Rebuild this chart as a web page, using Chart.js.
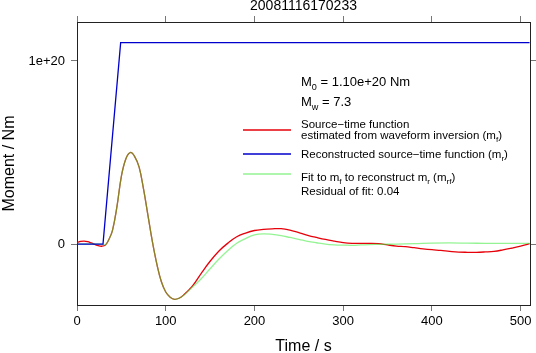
<!DOCTYPE html>
<html>
<head>
<meta charset="utf-8">
<script src="https://cdn.jsdelivr.net/npm/chart.js@4.4.1/dist/chart.umd.min.js"></script>
<style>
  body { margin: 0; background: #fff; }
  #wrap { width: 536px; height: 353px; }
</style>
</head>
<body>
<div id="wrap"><canvas id="stf" width="536" height="353"></canvas></div>
<script>
// values, moment in units of 1e20 Nm
const UNIT = 1e20;

const timeRecon = [0, 29.3, 49.2, 510];
const momentRecon = [0, 0, 1.10, 1.10];

const timeInv = [0, 4, 8, 12, 16, 20, 24, 28, 32, 36, 40, 45, 50, 55, 60, 65, 70, 75, 80, 85,
  90, 95, 100, 105, 110, 115, 120, 130, 140, 150, 160, 170, 180, 190, 200, 210, 220, 230, 240,
  250, 260, 270, 280, 290, 300, 310, 320, 330, 340, 350, 360, 370, 380, 390, 400, 410, 420, 430,
  440, 450, 460, 470, 480, 490, 500, 510];
const momentInv = [0.009, 0.014, 0.016, 0.013, 0.006, -0.002, -0.009, -0.012, -0.006, 0.025,
  0.075, 0.204, 0.37, 0.465, 0.5, 0.478, 0.42, 0.3, 0.155, 0.012,
  -0.11, -0.205, -0.262, -0.29, -0.302, -0.296, -0.279, -0.23, -0.16, -0.094, -0.038, 0.005,
  0.04, 0.06, 0.074, 0.08, 0.083, 0.084, 0.076, 0.062, 0.048, 0.036, 0.025, 0.016, 0.008,
  0.004, 0.004, 0.004, 0.002, -0.005, -0.011, -0.014, -0.02, -0.026, -0.031, -0.035, -0.04,
  -0.044, -0.045, -0.045, -0.043, -0.04, -0.032, -0.022, -0.011, 0.002];

const timeFit = [0, 28, 32, 36, 40, 45, 50, 55, 60, 65, 70, 75, 80, 85, 90, 95, 100, 105, 110,
  115, 120, 130, 140, 150, 160, 170, 180, 190, 200, 210, 220, 230, 240, 250, 260, 270, 280, 290,
  300, 310, 320, 330, 340, 360, 380, 400, 420, 440, 460, 480, 500, 510];
const momentFit = [0, 0, -0.004, 0.025, 0.075, 0.204, 0.37, 0.465, 0.5, 0.478, 0.42, 0.3, 0.155,
  0.012, -0.11, -0.205, -0.262, -0.29, -0.302, -0.296, -0.281, -0.236, -0.19, -0.135, -0.082,
  -0.035, 0.004, 0.03, 0.05, 0.056, 0.053, 0.046, 0.036, 0.026, 0.015, 0.007, 0.0, -0.004,
  -0.006, -0.007, -0.005, -0.003, -0.002, 0.0, 0.002, 0.005, 0.006, 0.005, 0.004, 0.004, 0.004,
  0.004];

const xTicks = [0, 100, 200, 300, 400, 500];
const yTicks = [0, 1e20];

const FONT = "'Liberation Sans', Arial, sans-serif";
const RED = 'rgb(230,0,10)';
const BLUE = 'rgb(0,0,205)';
const GREEN = 'rgba(60,235,60,0.55)';

function toPoints(ts, vs) {
  return ts.map((t, i) => ({ x: t, y: vs[i] * UNIT }));
}

// draws a string made of [text, isSub] pieces
function drawParts(ctx, x, y, parts, size) {
  let cx = x;
  parts.forEach(p => {
    const sub = p[1];
    ctx.font = (sub ? size * 0.7 : size) + 'px ' + FONT;
    ctx.fillText(p[0], cx, sub ? y + size * 0.3 : y);
    cx += ctx.measureText(p[0]).width;
  });
}

const overlay = {
  id: 'overlay',
  afterDraw(chart) {
    const ctx = chart.ctx;
    const a = chart.chartArea;
    ctx.save();
    ctx.fillStyle = '#000';
    ctx.textBaseline = 'alphabetic';

    // title
    ctx.textAlign = 'center';
    ctx.font = '14px ' + FONT;
    ctx.fillText('20081116170233', (a.left + a.right) / 2, 10);

    // axis titles
    ctx.font = '16px ' + FONT;
    ctx.fillText('Time / s', (a.left + a.right) / 2, 351);
    ctx.save();
    ctx.translate(14, (a.top + a.bottom) / 2);
    ctx.rotate(-Math.PI / 2);
    ctx.fillText('Moment / Nm', 0, 0);
    ctx.restore();

    ctx.textAlign = 'left';
    const tx = 301;
    drawParts(ctx, tx, 86, [['M', 0], ['0', 1], [' = 1.10e+20 Nm', 0]], 13);
    drawParts(ctx, tx, 106, [['M', 0], ['w', 1], [' = 7.3', 0]], 13);

    const fs = 11.5;
    drawParts(ctx, tx, 128, [['Source\u2212time function', 0]], fs);
    drawParts(ctx, tx, 138.5, [['estimated from waveform inversion (m', 0], ['f', 1], [')', 0]], fs);
    drawParts(ctx, tx, 158, [['Reconstructed source\u2212time function (m', 0], ['r', 1], [')', 0]], fs);
    drawParts(ctx, tx, 180.5, [['Fit to m', 0], ['f', 1], [' to reconstruct m', 0], ['r', 1],
      [' (m', 0], ['rf', 1], [')', 0]], fs);
    drawParts(ctx, tx, 195, [['Residual of fit: 0.04', 0]], fs);

    // legend keys
    ctx.lineWidth = 1.3;
    [[RED, 130], [BLUE, 154], [GREEN, 174]].forEach(k => {
      ctx.strokeStyle = k[0];
      ctx.beginPath();
      ctx.moveTo(243, k[1]);
      ctx.lineTo(291, k[1]);
      ctx.stroke();
    });
    ctx.restore();
  }
};

const frame = { display: true, color: '#222', width: 1 };
const tickGrid = { drawOnChartArea: false, drawTicks: true, tickLength: 6, tickColor: '#777' };

new Chart(document.getElementById('stf').getContext('2d'), {
  type: 'line',
  data: {
    datasets: [
      { label: 'Reconstructed', data: toPoints(timeRecon, momentRecon), borderColor: BLUE,
        borderWidth: 1.3, pointRadius: 0, tension: 0 },
      { label: 'Fit', data: toPoints(timeFit, momentFit), borderColor: GREEN,
        borderWidth: 1.3, pointRadius: 0, tension: 0.4 },
      { label: 'Inversion', data: toPoints(timeInv, momentInv), borderColor: RED,
        borderWidth: 1.3, pointRadius: 0, tension: 0.4 }
    ]
  },
  options: {
    responsive: false,
    animation: false,
    layout: { padding: 0 },
    plugins: { legend: { display: false }, tooltip: { enabled: false } },
    scales: {
      x: {
        type: 'linear', position: 'bottom', min: 0, max: 510.5,
        afterBuildTicks: s => { s.ticks = xTicks.map(v => ({ value: v })); },
        afterFit: s => { s.height = 48; },
        ticks: { color: '#000', padding: 3, font: { family: FONT, size: 13 } },
        grid: tickGrid, border: frame
      },
      xTop: {
        type: 'linear', position: 'top', min: 0, max: 510.5,
        afterBuildTicks: s => { s.ticks = xTicks.map(v => ({ value: v })); },
        afterFit: s => { s.height = 22; },
        ticks: { display: false },
        grid: tickGrid, border: frame
      },
      y: {
        type: 'linear', position: 'left', min: -0.333 * UNIT, max: 1.213 * UNIT,
        afterBuildTicks: s => { s.ticks = yTicks.map(v => ({ value: v })); },
        afterFit: s => { s.width = 77; },
        ticks: {
          color: '#000', padding: 6, font: { family: FONT, size: 13 },
          callback: v => v === 0 ? '0' : v.toExponential(0)
        },
        grid: tickGrid, border: frame
      },
      yRight: {
        type: 'linear', position: 'right', min: -0.333 * UNIT, max: 1.213 * UNIT,
        afterBuildTicks: s => { s.ticks = yTicks.map(v => ({ value: v })); },
        afterFit: s => { s.width = 6; },
        ticks: { display: false },
        grid: tickGrid, border: frame
      }
    }
  },
  plugins: [overlay]
});
</script>
</body>
</html>
